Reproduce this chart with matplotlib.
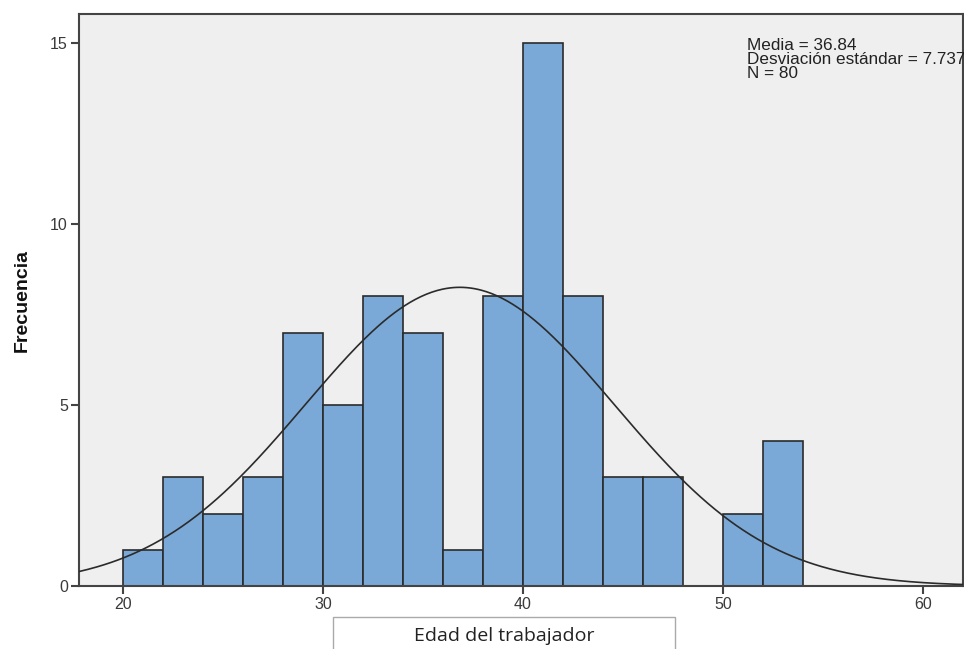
import numpy as np
import matplotlib
matplotlib.use("Agg")
import matplotlib.pyplot as plt
from matplotlib.patches import Rectangle

bin_edges = [20, 22, 24, 26, 28, 30, 32, 34, 36, 38, 40, 42, 44, 46, 48, 50, 52, 54]
counts = [1, 3, 2, 3, 7, 5, 8, 7, 1, 8, 15, 8, 3, 3, 0, 2, 4]
mean = 36.84
std = 7.737
n = 80
xticks = [20, 30, 40, 50, 60]
yticks = [0, 5, 10, 15]

plt.rcParams['font.family'] = ['Liberation Sans', 'DejaVu Sans']

fig = plt.figure(figsize=(9.64, 6.49), dpi=100)
ax = fig.add_axes([79/964, (649-586)/649, (963-79)/964, (586-14)/649])
ax.set_facecolor('#efefef')

edges = np.array(bin_edges)
widths = np.diff(edges)
ax.bar(edges[:-1], counts, width=widths, align='edge', color='#7aa9d8',
       edgecolor='#2b2b2b', linewidth=1.2, zorder=2)

xs = np.linspace(17.8, 62, 500)
binw = widths[0]
pdf = n * binw * np.exp(-0.5 * ((xs - mean) / std) ** 2) / (std * np.sqrt(2 * np.pi))
ax.plot(xs, pdf, color='#2b2b2b', linewidth=1.2, zorder=3)

ax.set_xlim(17.8, 62)
ax.set_ylim(0, 15.8)
ax.set_xticks(xticks)
ax.set_yticks(yticks)
ax.tick_params(axis='both', direction='out', length=6, width=1.5, color='#444444',
               labelsize=11.5, labelcolor='#3a3a3a', pad=2)
for s in ['left', 'bottom', 'top', 'right']:
    ax.spines[s].set_color('#444444')
    ax.spines[s].set_linewidth(1.5)

ax.set_ylabel('Frecuencia', fontsize=14, fontweight='bold', color='#111111', labelpad=14,
              family=['Liberation Sans Narrow', 'Liberation Sans', 'DejaVu Sans'])

fig.text(747/964, 1 - 38/649, 'Media = %.2f\nDesviación estándar = %.3f\nN = %d' % (mean, std, n),
         ha='left', va='top', fontsize=12.3, color='#222222', linespacing=0.93)

fig.patches.append(Rectangle((333/964, -0.05), (675-333)/964, (649-617)/649 + 0.05,
                             transform=fig.transFigure, fill=False,
                             edgecolor='#aaaaaa', linewidth=1.0))
fig.text(504/964, (649-636)/649, 'Edad del trabajador', ha='center', va='center',
         fontsize=14, family=['Open Sans', 'DejaVu Sans'], color='#222222')

fig.savefig('out.png', dpi=100)
